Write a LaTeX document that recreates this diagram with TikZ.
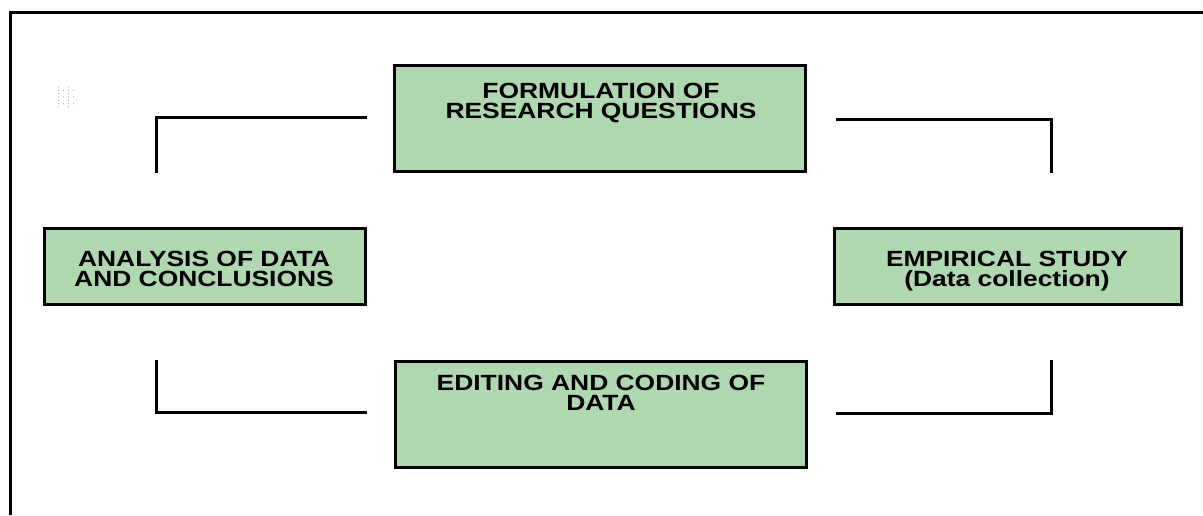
\documentclass[tikz,border=0pt]{standalone}
\usepackage{fontspec}
\setmainfont{Liberation Sans}
\newfontfamily\boxfont[FakeStretch=1.2]{Liberation Sans}
\definecolor{boxgreen}{RGB}{176,216,176}
\begin{document}
\begin{tikzpicture}[x=1pt,y=-1pt,
  stagebox/.style={draw=black, fill=boxgreen, line width=3pt, inner sep=0pt, rectangle},
  stagetext/.style={font=\boxfont\bfseries\fontsize{22}{20}\selectfont, align=center, inner sep=0pt, anchor=north},
  link/.style={draw=black, line width=3pt, line cap=butt, line join=miter},
  speck/.style={fill=black!35, draw=none}]
\useasboundingbox (0,0) rectangle (1203,515);

% frame
\coordinate (fa) at (10,515);
\coordinate (fb) at (10,12);
\coordinate (fc) at (1203,12);
\draw[link] (fa) -- (fb) -- (fc);

% small dotted speck
\foreach \r [count=\i] in {87,90.3,93.7,97,100.3,103.7,107}{
  \ifodd\i
    \foreach \c in {58.5,68.5} {\fill[speck] (\c,\r) circle (0.6pt);}
  \else
    \foreach \c in {58.5,63.5,68.5,73.5} {\fill[speck] (\c,\r) circle (0.6pt);}
  \fi
}

% boxes
\node[stagebox, minimum width=411pt, minimum height=106pt] (form) at (600,118.3) {};
\node[stagetext] (formt) at (601,82.5) {FORMULATION OF\\RESEARCH QUESTIONS};

\node[stagebox, minimum width=321pt, minimum height=76pt] (anal) at (204.5,266.7) {};
\node[stagetext] (analt) at (204,250.5) {ANALYSIS OF DATA\\AND CONCLUSIONS};

\node[stagebox, minimum width=346.6pt, minimum height=76pt] (emp) at (1008,266.7) {};
\node[stagetext] (empt) at (1007,250.5) {EMPIRICAL STUDY\\(Data collection)};

\node[stagebox, minimum width=411pt, minimum height=106pt] (edit) at (601,414.4) {};
\node[stagetext] (editt) at (601,374.5) {EDITING AND CODING OF\\DATA};

% connectors (free-standing brackets)
\coordinate (tlA) at (367,117.5);
\coordinate (tlB) at (156.5,117.5);
\coordinate (tlC) at (156.5,172.7);
\draw[link] (tlA) -- (tlB) -- (tlC);

\coordinate (trA) at (836,119.5);
\coordinate (trB) at (1051,119.5);
\coordinate (trC) at (1051,172.7);
\draw[link] (trA) -- (trB) -- (trC);

\coordinate (blA) at (156.5,360);
\coordinate (blB) at (156.5,412.5);
\coordinate (blC) at (367,412.5);
\draw[link] (blA) -- (blB) -- (blC);

\coordinate (brA) at (836,413);
\coordinate (brB) at (1051,413);
\coordinate (brC) at (1051,360);
\draw[link] (brA) -- (brB) -- (brC);
\end{tikzpicture}
\end{document}
